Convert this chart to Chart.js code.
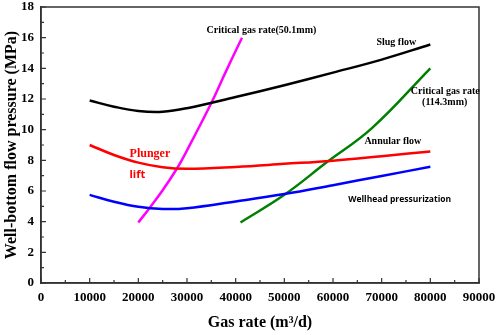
<!DOCTYPE html>
<html><head><meta charset="utf-8">
<script src="https://cdn.jsdelivr.net/npm/chart.js@4/dist/chart.umd.min.js"></script>
<style>html,body{margin:0;padding:0;background:#fff}#wrap{width:498px;height:335px}</style>
</head><body><div id="wrap"><canvas id="c"></canvas></div>
<script>
// Data (gas rate in m3/d, pressure in MPa)
const slugX = [10000,15000,20000,25000,30000,40000,50000,60000,70000,80000];
const slugY = [11.9,11.5,11.22,11.17,11.4,12.13,12.9,13.72,14.57,15.55];
const plungerX = [10000,15000,20000,25000,30000,40000,50000,60000,70000,80000];
const plungerY = [9.0,8.35,7.85,7.55,7.45,7.57,7.77,7.98,8.27,8.58];
const wellheadX = [10000,15000,20000,25000,30000,40000,50000,60000,70000,80000];
const wellheadY = [5.75,5.3,4.97,4.83,4.88,5.32,5.8,6.38,6.98,7.58];
const crit50X = [20000,22200,25000,28000,30000,35100,38000,41300];
const crit50Y = [3.95,4.85,6.05,7.5,8.65,11.8,13.8,16.0];
const crit114X = [41000,50000,58700,68000,80000];
const crit114Y = [3.95,5.75,7.87,10.1,14.0];
const xTicks = [0,10000,20000,30000,40000,50000,60000,70000,80000,90000];
const yTicks = [0,2,4,6,8,10,12,14,16,18];
const labels = [
  {text:'Critical gas rate(50.1mm)', x:45300, y:16.5, color:'#000', font:'bold 10px "Liberation Serif"'},
  {text:'Slug flow', x:73000, y:15.72, color:'#000', font:'bold 10px "Liberation Serif"'},
  {text:'Critical gas rate', x:83060, y:12.48, color:'#000', font:'bold 10px "Liberation Serif"'},
  {text:'(114.3mm)', x:82950, y:11.79, color:'#000', font:'bold 10px "Liberation Serif"'},
  {text:'Annular flow', x:72300, y:9.26, color:'#000', font:'bold 10px "Liberation Serif"'},
  {text:'Plunger', x:22380, y:8.41, color:'#ff0000', font:'bold 12px "Liberation Serif"'},
  {text:'lift', x:19800, y:7.05, color:'#ff0000', font:'bold 11px "Open Sans"'},
  {text:'Wellhead pressurization', x:73700, y:5.41, color:'#000', font:'bold 8.5px "Open Sans"'}
];

const pts = (xs, ys) => xs.map((x, i) => ({x, y: ys[i]}));
const ds = (xs, ys, color) => ({data: pts(xs, ys), borderColor: color, backgroundColor: color,
  borderWidth: 2.5, pointRadius: 0, fill: false, tension: 0.4});

const frame = {
  id: 'frame',
  afterDraw(chart) {
    const {ctx, chartArea: a, scales: {x, y}} = chart;
    ctx.save();
    ctx.strokeStyle = '#333';
    ctx.lineWidth = 1.5;
    ctx.strokeRect(a.left, a.top, a.right - a.left, a.bottom - a.top);
    ctx.lineWidth = 1.2;
    ctx.beginPath();
    for (let v = 0; v <= 90000; v += 5000) {
      const px = x.getPixelForValue(v);
      const len = v % 10000 === 0 ? 5 : 3;
      ctx.moveTo(px, a.bottom); ctx.lineTo(px, a.bottom - len);
    }
    for (let v = 0; v <= 18; v += 1) {
      const py = y.getPixelForValue(v);
      const len = v % 2 === 0 ? 5 : 3;
      ctx.moveTo(a.left, py); ctx.lineTo(a.left + len, py);
    }
    ctx.stroke();
    ctx.textAlign = 'center';
    ctx.textBaseline = 'middle';
    labels.forEach(l => {
      ctx.font = l.font;
      ctx.fillStyle = l.color;
      ctx.fillText(l.text, x.getPixelForValue(l.x), y.getPixelForValue(l.y));
    });
    ctx.restore();
  }
};

const tickFont = {family: '"Liberation Serif"', weight: 'bold', size: 13};
new Chart(document.getElementById('c'), {
  type: 'line',
  data: {datasets: [
    ds(slugX, slugY, '#000000'),
    ds(plungerX, plungerY, '#ff0000'),
    ds(wellheadX, wellheadY, '#0000ff'),
    ds(crit50X, crit50Y, '#ff00ff'),
    ds(crit114X, crit114Y, '#008000')
  ]},
  options: {
    responsive: true, maintainAspectRatio: false, animation: false,
    layout: {padding: {top: 7, right: 19, left: 0, bottom: 0}},
    plugins: {legend: {display: false}, tooltip: {enabled: false}},
    scales: {
      x: {type: 'linear', min: 0, max: 90000,
        afterBuildTicks: s => { s.ticks = xTicks.map(v => ({value: v})); },
        afterFit: s => { s.height = 52; s.paddingLeft = 0; s.paddingRight = 0; },
        grid: {display: false, drawTicks: false},
        border: {display: true, color: '#333', width: 1.5},
        ticks: {color: '#000', font: tickFont, padding: 7, maxRotation: 0, autoSkip: false, callback: v => String(v)},
        title: {display: true, text: 'Gas rate (m³/d)', color: '#000',
          font: {family: '"Liberation Serif"', weight: 'bold', size: 16}, padding: {top: 0, bottom: 3}}
      },
      y: {type: 'linear', min: 0, max: 18,
        afterBuildTicks: s => { s.ticks = yTicks.map(v => ({value: v})); },
        afterFit: s => { s.width = 41; s.paddingTop = 0; s.paddingBottom = 0; },
        grid: {display: false, drawTicks: false},
        border: {display: true, color: '#333', width: 1.5},
        ticks: {color: '#000', font: tickFont, padding: 7, autoSkip: false, callback: v => String(v)},
        title: {display: true, text: 'Well-bottom flow pressure (MPa)', color: '#000',
          font: {family: '"Liberation Serif"', weight: 'bold', size: 16}, padding: {top: 2, bottom: 0}}
      }
    }
  },
  plugins: [frame]
});
</script></body></html>
